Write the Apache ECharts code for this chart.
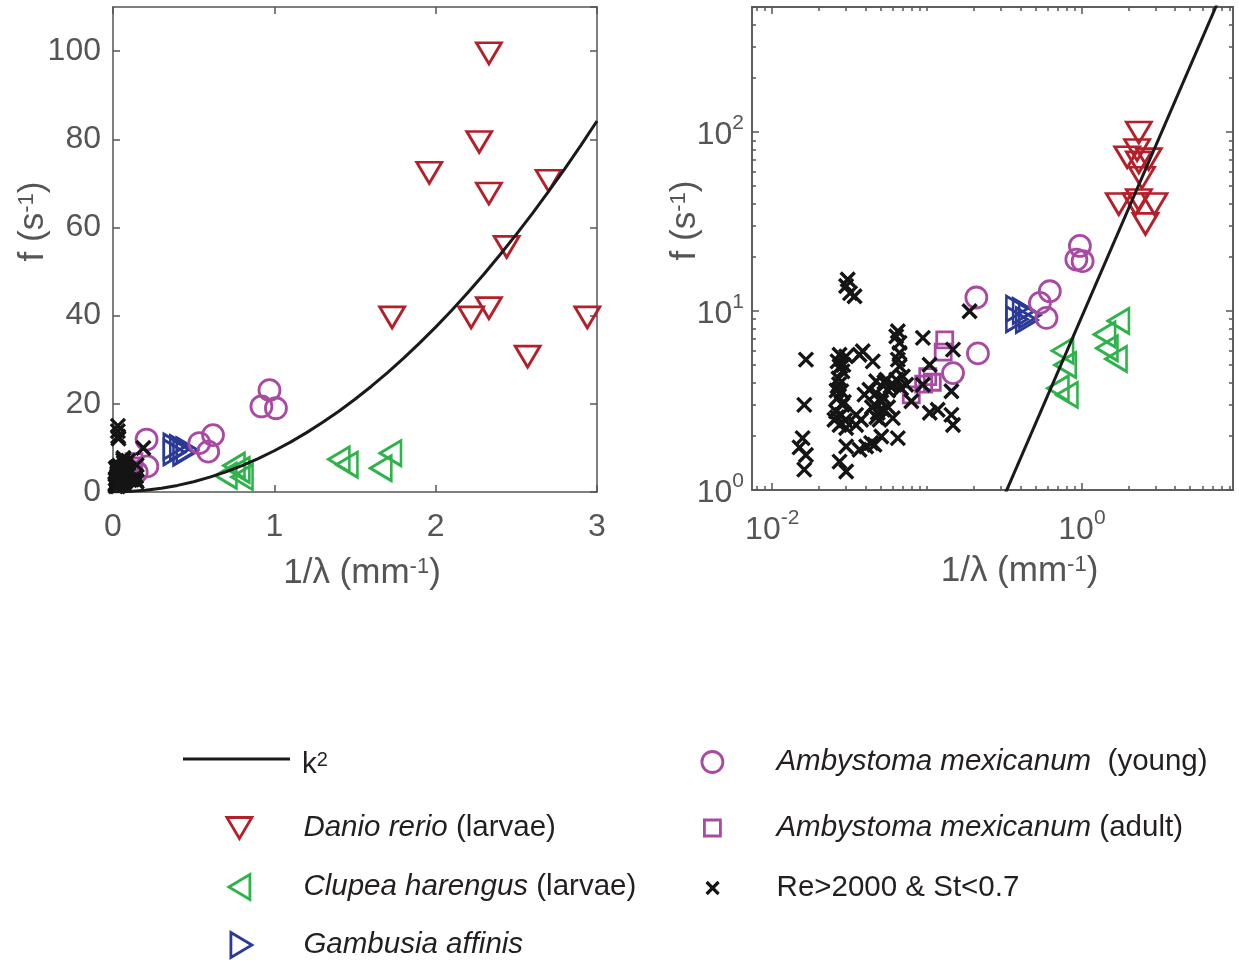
<!DOCTYPE html>
<html>
<head>
<meta charset="utf-8">
<script src="https://cdn.jsdelivr.net/npm/echarts@6/dist/echarts.min.js"></script>
<style>html,body{margin:0;padding:0;background:#fff}#c{width:1239px;height:965px}</style>
</head>
<body>
<div id="c"></div>
<script>
// ---- data ----
const danioX = [2.33, 2.27, 1.96, 2.33, 2.70, 2.44, 1.73, 2.22, 2.33, 2.94, 2.57];
const danioY = [99.5, 79.4, 72.4, 67.7, 70.6, 55.6, 39.6, 39.6, 41.7, 39.6, 30.7];
const clupeaX = [0.70, 0.75, 0.78, 0.80, 1.40, 1.45, 1.66, 1.72];
const clupeaY = [3.7, 6.0, 5.0, 3.4, 7.4, 6.2, 5.4, 8.8];
const gambusiaX = [0.38, 0.42, 0.46, 0.38, 0.44];
const gambusiaY = [10.3, 10.0, 9.5, 9.0, 8.9];
const youngX = [0.147, 0.208, 0.213, 0.535, 0.59, 0.62, 0.92, 0.97, 1.01];
const youngY = [4.5, 11.9, 5.8, 11.1, 9.15, 12.9, 19.4, 23.1, 19.0];
const adultX = [0.130, 0.127, 0.101, 0.108, 0.095, 0.079];
const adultY = [6.9, 5.9, 4.3, 4.0, 3.9, 3.4];
const crossX = [0.0307,0.0300,0.0340,0.0318,0.0165,0.0161,0.0157,0.0150,0.0165,0.0161,
  0.0272,0.0300,0.0272,0.0300,0.0264,0.0288,0.0275,0.0284,0.0268,0.0270,
  0.0260,0.0279,0.0264,0.0290,0.0284,0.0258,0.0279,0.0262,0.0252,0.0295,
  0.0272,0.0300,0.0366,0.0384,0.0446,0.0394,0.0424,0.0300,0.0366,0.0435,
  0.0506,0.0647,0.0404,0.0348,0.0375,0.0348,0.0601,0.0469,0.0518,0.0493,
  0.0545,0.0632,0.0647,0.0632,0.0664,0.0664,0.0647,0.0664,0.0697,0.0733,
  0.0939,0.1038,0.0939,0.0791,0.147,0.188,0.1435,0.104,0.117,0.1435,
  0.147,0.0457,0.0480,0.0520,0.0560,0.0600,0.0440,0.0506,0.0470,0.0530,
  0.0580,0.0680,0.0560,0.0457,0.0469];
const crossY = [15.0,13.8,12.1,12.6,5.35,2.99,1.95,1.73,1.57,1.30,
  1.44,1.27,5.70,5.58,5.23,5.00,4.90,4.60,4.20,3.90,
  3.60,3.56,3.28,3.10,2.99,2.75,2.63,2.55,2.47,2.45,
  2.31,2.22,5.70,5.96,5.23,3.41,3.63,1.75,1.68,1.83,
  1.99,1.95,1.75,2.63,2.47,2.31,2.52,3.48,2.81,2.47,
  4.13,4.13,7.71,7.22,6.64,5.83,5.35,4.91,4.31,3.87,
  7.08,5.01,3.87,3.13,6.09,9.97,3.56,2.70,2.81,2.63,
  2.31,3.0,2.7,3.3,3.6,3.9,2.9,3.1,2.55,4.0,
  3.8,3.7,2.9,1.79,4.05];
// k^2 fit: f = K2_COEF * (1/lambda)^2
const K2_COEF = 9.35;
const curveXLin = [0,0.1,0.2,0.3,0.4,0.5,0.6,0.7,0.8,0.9,1,1.1,1.2,1.3,1.4,1.5,1.6,1.7,1.8,1.9,2,2.1,2.2,2.3,2.4,2.5,2.6,2.7,2.8,2.9,3];
const curveXLog = [0.3, 8];
// tick labels
const xTicksLin = [0, 1, 2, 3];
const yTicksLin = [0, 20, 40, 60, 80, 100];
const xMajorLog = [0.01, 1];
const xMinorLog = [0.008,0.009,0.02,0.03,0.04,0.05,0.06,0.07,0.08,0.09,0.1,0.2,0.3,0.4,0.5,0.6,0.7,0.8,0.9,2,3,4,5,6,7,8,9];
const yMajorLog = [1, 10, 100];
const yMinorLog = [2,3,4,5,6,7,8,9,20,30,40,50,60,70,80,90,200,300,400,500];

const zip = (a, b) => a.map((v, i) => [v, b[i]]);
const FONT = 'Liberation Sans, Arial, sans-serif';
const AX = '#555555';
const TXT = '#231f20';
const RED = '#b51f2a', GREEN = '#2db34a', BLUE = '#2b3a97', PURPLE = '#a84aa3';
const CROSS = 'path://M0,0L10,10M10,0L0,10';
const TRI = [25, 21];
const ICON_DOWN = 'path://M0,0L25,0L12.5,21Z';
const ICON_LEFT = 'path://M0,12.5L21,0L21,25Z';
const ICON_RIGHT = 'path://M0,0L21,12.5L0,25Z';

const lineStyle = {color: AX, width: 1.5};
const supRich = {
  b: {fontSize: 32, color: AX, fontFamily: FONT, lineHeight: 38, verticalAlign: 'bottom'},
  s: {fontSize: 21, color: AX, fontFamily: FONT, verticalAlign: 'top', lineHeight: 22}
};
const nameStyle = {fontSize: 35, color: AX, fontFamily: FONT,
  rich: {s: {fontSize: 22, color: AX, fontFamily: FONT, verticalAlign: 'top', lineHeight: 22}}};
const supFmt = v => '{b|10}{s|' + Math.round(Math.log10(v)) + '}';

function linAxis(extra) {
  return Object.assign({
    type: 'value', splitLine: {show: false},
    axisLine: {onZero: false, lineStyle},
    axisTick: {inside: true, length: 7, lineStyle},
    axisLabel: {show: false}
  }, extra);
}
function logAxis(extra, vals, len, labels, margin) {
  return Object.assign({
    type: 'log', logBase: 10, splitLine: {show: false},
    axisLine: {onZero: false, lineStyle},
    axisTick: {inside: true, length: len, lineStyle, customValues: vals},
    axisLabel: labels ? {customValues: vals, formatter: supFmt, rich: supRich, color: AX, fontFamily: FONT, margin} : {show: false},
    minorTick: {show: false}
  }, extra);
}
const XL = {min: 0.0074, max: 9.45, gridIndex: 1};
const YL = {min: 1, max: 500, gridIndex: 1};

const option = {
  animation: false,
  backgroundColor: '#fff',
  grid: [
    {left: 113, top: 7, width: 484, height: 485},
    {left: 752, top: 7, width: 481, height: 483}
  ],
  xAxis: [
    linAxis({gridIndex: 0, min: 0, max: 3, interval: 1, position: 'bottom',
      axisLabel: {show: true, fontSize: 32, color: AX, fontFamily: FONT, margin: 19,
        formatter: v => xTicksLin.includes(v) ? String(v) : ''},
      name: '1/λ (mm{s|-1})', nameLocation: 'middle', nameGap: 64, nameMoveOverlap: false,
      nameTextStyle: Object.assign({}, nameStyle, {padding: [0, 0, 0, 14]})}),
    linAxis({gridIndex: 0, min: 0, max: 3, interval: 1, position: 'top'}),
    logAxis(Object.assign({position: 'bottom',
      name: '1/λ (mm{s|-1})', nameLocation: 'middle', nameGap: 64, nameMoveOverlap: false,
      nameTextStyle: Object.assign({}, nameStyle, {padding: [0, 0, 0, 54]})}, XL), xMajorLog, 7, true, 18),
    logAxis(Object.assign({position: 'bottom'}, XL), xMinorLog, 4, false),
    logAxis(Object.assign({position: 'top'}, XL), xMajorLog, 7, false),
    logAxis(Object.assign({position: 'top'}, XL), xMinorLog, 4, false)
  ],
  yAxis: [
    linAxis({gridIndex: 0, min: 0, max: 110, interval: 20, position: 'left',
      axisLabel: {show: true, fontSize: 32, color: AX, fontFamily: FONT, margin: 12, showMaxLabel: false,
        formatter: v => yTicksLin.includes(v) ? String(v) : ''},
      name: 'f (s{s|-1})', nameLocation: 'middle', nameRotate: 90, nameGap: 62, nameMoveOverlap: false,
      nameTextStyle: Object.assign({}, nameStyle, {padding: [0, 0, 0, 56]})}),
    linAxis({gridIndex: 0, min: 0, max: 110, interval: 20, position: 'right'}),
    logAxis(Object.assign({position: 'left',
      name: 'f (s{s|-1})', nameLocation: 'middle', nameRotate: 90, nameGap: 49, nameMoveOverlap: false,
      nameTextStyle: Object.assign({}, nameStyle, {padding: [0, 0, 0, 56]})}, YL), yMajorLog, 7, true, 8),
    logAxis(Object.assign({position: 'left'}, YL), yMinorLog, 4, false),
    logAxis(Object.assign({position: 'right'}, YL), yMajorLog, 7, false),
    logAxis(Object.assign({position: 'right'}, YL), yMinorLog, 4, false)
  ],
  series: []
};

function scatterPair(name, xs, ys, symbol, size, rotate, color, bw) {
  [[0, 0], [2, 2]].forEach(([xi, yi]) => {
    option.series.push({
      name, type: 'scatter', xAxisIndex: xi, yAxisIndex: yi,
      data: zip(xs, ys), symbol, symbolSize: size, symbolRotate: rotate,
      itemStyle: {color: 'rgba(0,0,0,0)', borderColor: color, borderWidth: bw, opacity: 1},
      emphasis: {disabled: true}, clip: true
    });
  });
}
scatterPair('Danio', danioX, danioY, 'triangle', TRI, 180, RED, 2.8);
scatterPair('Clupea', clupeaX, clupeaY, 'triangle', TRI, 90, GREEN, 2.8);
scatterPair('Gambusia', gambusiaX, gambusiaY, 'triangle', TRI, -90, BLUE, 2.8);
scatterPair('young', youngX, youngY, 'circle', 21, 0, PURPLE, 2.8);
scatterPair('adult', adultX, adultY, 'rect', 16, 0, PURPLE, 2.8);
scatterPair('cross', crossX, crossY, CROSS, 14, 0, '#151515', 3.4);

option.series.push({
  name: 'k2', type: 'line', xAxisIndex: 0, yAxisIndex: 0, symbol: 'none', showSymbol: false, clip: true, z: 5,
  data: curveXLin.map(x => [x, K2_COEF * x * x]),
  lineStyle: {color: '#1a1a1a', width: 3}, itemStyle: {color: '#1a1a1a'}
});
option.series.push({
  name: 'k2', type: 'line', xAxisIndex: 2, yAxisIndex: 2, symbol: 'none', showSymbol: false, clip: true, z: 5,
  data: curveXLog.map(x => [x, K2_COEF * x * x]),
  lineStyle: {color: '#1a1a1a', width: 3}, itemStyle: {color: '#1a1a1a'}
});

const LG_FS = 29.5;
const lgRich = {
  i: {fontStyle: 'italic', fontSize: LG_FS, color: TXT, fontFamily: FONT},
  s: {fontSize: 20, color: TXT, fontFamily: FONT, verticalAlign: 'top', lineHeight: 20}
};
function lg(name, left, cy, w, h, padLeft, text, icon, color, bw) {
  return {
    data: [icon ? {name, icon} : name], left, top: cy - Math.max(h, 34) / 2, itemWidth: w, itemHeight: h,
    padding: 0, selectedMode: false, formatter: () => text,
    itemStyle: {color: 'rgba(0,0,0,0)', borderColor: color, borderWidth: bw},
    textStyle: {fontSize: LG_FS, color: TXT, fontFamily: FONT, padding: [0, 0, 0, padLeft], rich: lgRich}
  };
}
option.legend = [
  {
    data: [{name: 'k2', icon: 'rect'}], left: 183, top: 750, itemWidth: 107, itemHeight: 3,
    padding: 0, selectedMode: false, formatter: () => 'k{s|2}',
    itemStyle: {color: '#1a1a1a', borderWidth: 0},
    textStyle: {fontSize: LG_FS, color: TXT, fontFamily: FONT, padding: [12, 0, 0, 7], rich: lgRich}
  },
  lg('Danio', 225.5, 830, 25, 21, 46.5, '{i|Danio rerio} (larvae)', ICON_DOWN, RED, 2.8),
  lg('Clupea', 227.5, 889, 21, 25, 48.5, '{i|Clupea harengus} (larvae)', ICON_LEFT, GREEN, 2.8),
  lg('Gambusia', 229.5, 947, 21, 25, 46.5, '{i|Gambusia affinis}', ICON_RIGHT, BLUE, 2.8),
  lg('young', 700.5, 764, 21, 21, 48.5, '{i|Ambystoma mexicanum}  (young)', null, PURPLE, 2.8),
  lg('adult', 703, 830, 16, 16, 51, '{i|Ambystoma mexicanum} (adult)', null, PURPLE, 2.8),
  lg('cross', 705, 890, 12, 12, 53, 'Re>2000 & St<0.7', null, '#151515', 3.2)
];

const chart = echarts.init(document.getElementById('c'), null, {renderer: 'canvas'});
chart.setOption(option);
</script>
</body>
</html>
